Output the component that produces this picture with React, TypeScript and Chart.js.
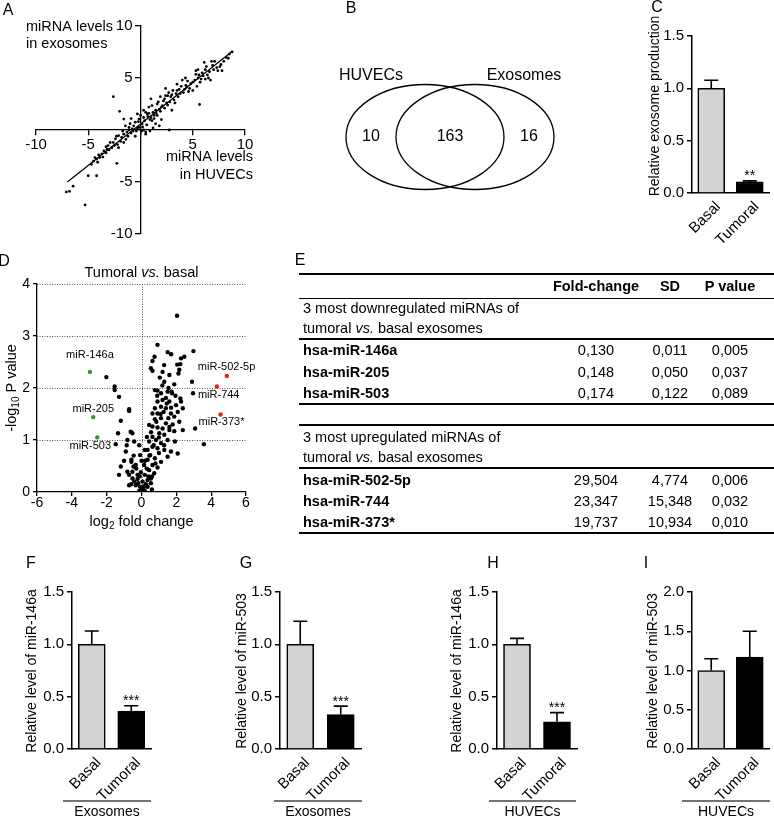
import React, { useEffect, useRef } from 'react';
import { Chart, registerables } from 'chart.js';

Chart.register(...registerables);

const FONT = '"Liberation Sans", Arial, Helvetica, sans-serif';
const PAGE_W = 774;
const PAGE_H = 817;

// ================= Panel A : miRNA levels, exosomes vs HUVECs =================
const exoVsHuvecPoints: [number, number][] = [
  [8.77, 7.52], [8.5, 7.3], [8.2, 6.97], [7.97, 6.6], [8.4, 6.9], [7.7, 6.3], [7.1, 6.6], [6.9, 6.2],
  [7.4, 5.7], [7.8, 5.7], [6.6, 5.6], [6.3, 6.1], [6.1, 6.5], [5.6, 5.3], [5.3, 5.7], [5.3, 5.35],
  [6.0, 5.2], [6.7, 4.8], [5.2, 4.8], [4.8, 4.45], [4.35, 4.3], [4.7, 4.0], [5.0, 3.8], [4.0, 4.8],
  [3.9, 4.2], [3.5, 3.8], [3.4, 3.5], [3.1, 3.8], [2.7, 3.6], [2.4, 4.0], [2.6, 3.3], [2.9, 3.2],
  [2.3, 3.0], [1.9, 3.2], [1.6, 2.5], [2.1, 2.35], [1.8, 2.0], [1.45, 1.9], [1.1, 2.35], [1.0, 3.0],
  [0.8, 2.2], [1.3, 1.4], [0.65, 1.55], [0.5, 1.7], [0.3, 1.2], [0.0, 1.4], [-0.15, 1.05], [-0.3, 1.55],
  [-0.5, 0.75], [-0.65, 0.4], [-0.15, 0.25], [0.15, 0.6], [-1.0, 0.6], [-0.8, 0.1], [-1.1, 0.25],
  [-1.45, 0.4], [-1.6, 1.05], [-2.0, 1.8], [-2.6, 3.2], [-1.3, -0.2], [-1.6, -0.4], [-1.8, -0.7],
  [-2.1, -0.55], [-2.4, -0.85], [-2.6, -1.2], [-2.9, -1.2], [-3.1, -1.5], [-2.75, -1.7], [-3.2, -1.85],
  [-3.5, -2.0], [-3.7, -2.3], [-4.0, -2.4], [-3.9, -2.65], [-4.2, -2.8], [-4.35, -2.65], [-4.5, -3.0],
  [-2.1, -1.7], [-2.26, -3.2], [-1.6, -1.2], [0.5, -0.2], [2.75, 0.0], [5.65, 2.45], [1.45, 0.6],
  [1.8, 0.4], [0.5, -0.4], [-5.0, -4.4], [-4.2, -4.4], [-6.45, -5.4], [-6.8, -5.9], [-7.1, -5.95],
  [-5.3, -7.2],
  [7.3, 6.0], [7.6, 6.1], [6.4, 5.3], [6.2, 5.8], [5.8, 4.9], [5.5, 5.0], [5.9, 5.5], [4.5, 4.7],
  [4.2, 3.9], [4.4, 4.1], [3.8, 3.5], [3.6, 3.2], [3.2, 2.9], [3.0, 3.4], [2.5, 2.6], [2.2, 2.8],
  [2.0, 2.2], [1.7, 2.7], [1.5, 1.6], [1.2, 1.7], [1.0, 1.2], [0.9, 1.0], [0.7, 1.3], [0.4, 0.9],
  [0.2, 0.3], [0.3, 0.0], [0.1, -0.1], [-0.3, 0.2], [-0.4, -0.1], [-0.7, -0.1], [-0.9, -0.3],
  [-1.2, -0.6], [-1.4, -0.9], [-1.9, -1.1], [-2.2, -1.4], [-2.5, -1.5], [-3.0, -1.9], [-3.3, -2.2],
  [-3.6, -2.6], [-4.1, -3.1], [-4.7, -3.3], [-3.3, -1.6], [-2.3, -0.6], [-1.7, -0.1], [-0.2, 0.8],
  [0.6, 0.5], [1.1, 0.9], [1.3, 1.1], [1.6, 1.4], [1.9, 1.8], [2.3, 2.1], [2.6, 2.4], [2.8, 2.7],
  [3.3, 2.6], [3.7, 3.9], [4.1, 3.6], [4.6, 3.7], [5.0, 4.6], [5.4, 4.2], [5.7, 4.6], [6.2, 4.9],
  [6.5, 5.0], [7.0, 5.8], [3.0, 1.9], [2.0, 1.0], [1.2, 0.2], [0.9, -0.1], [-0.5, -0.6], [-1.1, 0.0],
  [-0.9, 1.1], [0.3, 1.9], [0.8, 1.6], [2.4, 3.3], [3.5, 4.4], [4.3, 5.0], [5.5, 5.8], [6.8, 6.6],
];
const fitLineX = [-7, 8.7];
const fitLineY = [-5, 7.5];

// ================= Panel B : Venn =================
const vennSetNames = ['HUVECs', 'Exosomes'];
const vennCounts = [10, 163, 16];
const vennCenterX = [-25, 25];
const vennRadiusX = 79;
const vennRadiusY = 52.5;

// ================= Bar panels (C, F, G, H, I) =================
const groups = ['Basal', 'Tumoral'];
const barFill = ['#d3d3d3', '#000000'];

const exosomeProduction = [1.0, 0.106];
const exosomeProductionErr = [0.077, 0.01];
const exoMiR146a = [1.0, 0.363];
const exoMiR146aErr = [0.127, 0.05];
const exoMiR503 = [1.0, 0.33];
const exoMiR503Err = [0.22, 0.08];
const huvecMiR146a = [1.0, 0.26];
const huvecMiR146aErr = [0.057, 0.088];
const huvecMiR503 = [1.0, 1.17];
const huvecMiR503Err = [0.15, 0.33];

// ================= Panel D : volcano =================
const volcanoPoints: [number, number][] = [
  [2.04, 3.39], [0.92, 2.83], [1.5, 2.69], [1.7, 2.65], [2.98, 2.71], [2.46, 2.6], [2.27, 2.57],
  [0.63, 2.52], [1.3, 2.44], [0.54, 2.38], [0.63, 2.33], [1.21, 2.31], [1.6, 2.25], [2.17, 2.35],
  [2.23, 2.46], [2.12, 2.28], [2.9, 2.12], [1.88, 2.07], [0.77, 1.96], [0.92, 1.95], [1.12, 1.9],
  [1.73, 1.93], [1.75, 1.9], [1.4, 1.81], [1.6, 1.74], [1.21, 1.77], [0.92, 1.74], [2.23, 1.8],
  [2.27, 1.74], [2.37, 1.61], [1.98, 1.67], [1.12, 1.64], [1.4, 1.61], [0.77, 1.61], [0.63, 1.51],
  [0.92, 1.51], [1.27, 1.54], [1.69, 1.51], [2.08, 1.54], [1.88, 1.45], [1.54, 1.42], [1.12, 1.42],
  [0.77, 1.4], [1.4, 1.32], [1.79, 1.3], [2.17, 1.35], [2.37, 1.19], [0.44, 1.29], [0.63, 1.26],
  [0.92, 1.24], [1.21, 1.22], [1.6, 1.19], [1.88, 1.17], [1.02, 1.13], [1.31, 1.1], [0.63, 1.06],
  [0.31, 1.06], [0.83, 1.0], [1.5, 1.0], [1.92, 0.97], [1.12, 0.94], [0.44, 0.97], [0.63, 0.87],
  [0.92, 0.84], [1.31, 0.81], [1.69, 0.78], [2.08, 0.74], [0.35, 0.81], [0.5, 0.71], [0.77, 0.65],
  [1.12, 0.58], [1.5, 0.68], [0.35, 0.62], [0.63, 0.52], [0.15, 0.52], [0.92, 0.47], [0.44, 0.42],
  [0.73, 0.36], [0.19, 0.33], [-0.04, 0.38], [-0.23, 0.33], [0.54, 0.26], [0.35, 0.23], [0.06, 0.2],
  [-0.19, 0.17], [-0.08, 0.1], [0.15, 0.1], [-0.33, 0.13], [-0.42, 0.2], [-0.52, 0.26], [-0.71, 0.33],
  [-0.81, 0.39], [-0.52, 0.39], [-0.33, 0.52], [-0.58, 0.58], [-0.46, 0.49], [-0.23, 0.25],
  [-0.04, 0.04], [0.06, 0.07], [-0.13, 0.02], [0.19, 0.02], [0.35, 0.1], [0.54, 0.17], [-0.71, 0.13],
  [-1.0, 0.6], [-1.19, 0.49], [-1.29, 0.33], [-0.9, 0.78], [-0.58, 0.62], [-0.62, 1.16], [-0.52, 1.13],
  [-0.81, 1.0], [-0.42, 0.97], [-0.85, 0.9], [-1.35, 1.13], [-1.48, 0.92], [-1.19, 1.37], [-0.71, 1.59],
  [-0.71, 1.56], [-1.29, 1.83], [-1.54, 2.03], [-1.54, 1.96], [-2.02, 2.21], [3.58, 0.92], [3.08, 1.22],
  [2.96, 1.9], [0.19, 0.81], [-0.13, 0.9], [-0.08, 0.71], [1.5, 1.93], [1.31, 2.12],
  [0.1, 0.05], [0.25, 0.15], [-0.1, 0.3], [0.3, 0.45], [0.6, 0.3], [0.8, 0.55], [0.2, 0.6], [-0.3, 0.45],
  [0.45, 0.7], [0.7, 0.9], [1.0, 0.75], [1.3, 0.9], [1.6, 1.25], [1.1, 1.5], [0.85, 1.35], [0.55, 1.15],
  [1.45, 1.7], [1.7, 1.62], [1.95, 1.85], [1.0, 1.05], [0.9, 1.85], [0.6, 0.05], [0.4, 0.3], [-0.6, 0.15],
  [-0.45, 0.7], [0.0, 0.6], [1.2, 2.05], [1.05, 2.2], [0.75, 2.6], [2.05, 2.45], [1.55, 2.0],
];
const downNames = ['miR-146a', 'miR-205', 'miR-503'];
const downLog2FC = [-2.96, -2.77, -2.54];
const downNegLogP = [2.31, 1.44, 1.05];
const upNames = ['miR-502-5p', 'miR-744', 'miR-373*'];
const upLog2FC = [4.9, 4.33, 4.54];
const upNegLogP = [2.23, 2.03, 1.49];

// ================= Panel E : table =================
const tableHeader = ['Fold-change', 'SD', 'P value'];
const downGenes = ['hsa-miR-146a', 'hsa-miR-205', 'hsa-miR-503'];
const downFold = ['0,130', '0,148', '0,174'];
const downSD = ['0,011', '0,050', '0,122'];
const downP = ['0,005', '0,037', '0,089'];
const upGenes = ['hsa-miR-502-5p', 'hsa-miR-744', 'hsa-miR-373*'];
const upFold = ['29,504', '23,347', '19,737'];
const upSD = ['4,774', '15,348', '10,934'];
const upP = ['0,006', '0,032', '0,010'];

// ================= helpers =================
type Seg = { t: string; size: number; italic?: boolean; bold?: boolean; dy?: number };
const segFont = (s: Seg) => `${s.italic ? 'italic ' : ''}${s.bold ? 'bold ' : ''}${s.size}px ${FONT}`;

function drawSegs(ctx: any, segs: Seg[], x: number, y: number, align: string = 'left', rot = 0, color = '#000') {
  ctx.save();
  ctx.translate(x, y);
  if (rot) ctx.rotate(rot);
  ctx.textBaseline = 'middle';
  ctx.textAlign = 'left';
  ctx.fillStyle = color;
  let total = 0;
  const widths = segs.map((s) => {
    ctx.font = segFont(s);
    const w = ctx.measureText(s.t).width;
    total += w;
    return w;
  });
  let cx = align === 'left' ? 0 : align === 'center' ? -total / 2 : -total;
  segs.forEach((s, i) => {
    ctx.font = segFont(s);
    ctx.fillText(s.t, cx, s.dy || 0);
    cx += widths[i];
  });
  ctx.restore();
}

const basePlugins = { legend: { display: false }, tooltip: { enabled: false }, title: { display: false } };
const baseOpts = (padding: any) => ({
  responsive: false,
  maintainAspectRatio: false,
  animation: false,
  devicePixelRatio: 1,
  events: [],
  layout: { padding },
  plugins: basePlugins,
});

const axisGrid = (tickLength: number, lw = 1.3) => ({
  display: true,
  drawOnChartArea: false,
  drawTicks: true,
  tickLength,
  color: '#000',
  lineWidth: lw,
});
const axisBorder = (lw = 1.3) => ({ display: true, color: '#000', width: lw });

// ================= Panel A config =================
function makeA() {
  const area = { left: 36, right: 245, top: 26, bottom: 234 };
  return {
    type: 'scatter',
    data: {
      datasets: [
        {
          data: exoVsHuvecPoints.map(([x, y]) => ({ x, y })),
          pointRadius: 1.4,
          pointBackgroundColor: '#000',
          pointBorderColor: '#000',
          pointBorderWidth: 0,
        },
        {
          type: 'line',
          data: fitLineX.map((x, i) => ({ x, y: fitLineY[i] })),
          borderColor: '#000',
          borderWidth: 1.3,
          pointRadius: 0,
          fill: false,
        },
      ],
    },
    options: {
      ...baseOpts({ left: area.left, top: area.top, right: PAGE_W - area.right, bottom: PAGE_H - area.bottom }),
      scales: {
        x: {
          type: 'linear',
          min: -10,
          max: 10,
          position: { y: 0 },
          ticks: {
            stepSize: 5,
            autoSkip: false,
            maxRotation: 0,
            color: '#000',
            padding: 1,
            font: { size: 15, family: FONT },
            callback: (v: any) => (v === 0 ? '' : String(v)),
          },
          grid: axisGrid(5),
          border: axisBorder(),
        },
        y: {
          type: 'linear',
          min: -10,
          max: 10,
          position: { x: 0 },
          ticks: { stepSize: 5, display: false },
          grid: axisGrid(5),
          border: axisBorder(),
        },
      },
    },
    plugins: [
      {
        id: 'aDecor',
        afterDraw(chart: any) {
          const { ctx, scales } = chart;
          const xs = scales.x;
          const ys = scales.y;
          const axisX = xs.getPixelForValue(0);
          ys.ticks.forEach((t: any) => {
            if (t.value === 0) return;
            drawSegs(ctx, [{ t: String(t.value), size: 15 }], axisX - 8, ys.getPixelForValue(t.value), 'right');
          });
          drawSegs(ctx, [{ t: 'miRNA levels', size: 14.5 }], 26, 27, 'left');
          drawSegs(ctx, [{ t: 'in exosomes', size: 14.5 }], 26, 44, 'left');
          drawSegs(ctx, [{ t: 'miRNA levels', size: 14.5 }], 253, 157, 'right');
          drawSegs(ctx, [{ t: 'in HUVECs', size: 14.5 }], 253, 175, 'right');
        },
      },
    ],
  };
}

// ================= Panel B config =================
function makeB() {
  const area = { left: 346, right: 554, top: 84.5, bottom: 189.5 };
  return {
    type: 'scatter',
    data: { datasets: [{ data: [] }] },
    options: {
      ...baseOpts({ left: area.left, top: area.top, right: PAGE_W - area.right, bottom: PAGE_H - area.bottom }),
      scales: {
        x: { type: 'linear', display: false, min: -104, max: 104 },
        y: { type: 'linear', display: false, min: -vennRadiusY, max: vennRadiusY },
      },
    },
    plugins: [
      {
        id: 'venn',
        afterDraw(chart: any) {
          const { ctx, scales } = chart;
          const xs = scales.x;
          const ys = scales.y;
          const cy = ys.getPixelForValue(0);
          ctx.save();
          ctx.strokeStyle = '#000';
          ctx.lineWidth = 1.3;
          vennCenterX.forEach((c) => {
            const cx = xs.getPixelForValue(c);
            const rx = xs.getPixelForValue(c + vennRadiusX) - cx;
            const ry = cy - ys.getPixelForValue(vennRadiusY);
            ctx.beginPath();
            ctx.ellipse(cx, cy, rx, ry, 0, 0, Math.PI * 2);
            ctx.stroke();
          });
          ctx.restore();
          const leftOnly = ((vennCenterX[0] - vennRadiusX) + (vennCenterX[1] - vennRadiusX)) / 2;
          const both = (vennCenterX[0] + vennCenterX[1]) / 2;
          const rightOnly = ((vennCenterX[0] + vennRadiusX) + (vennCenterX[1] + vennRadiusX)) / 2;
          [leftOnly, both, rightOnly].forEach((v, i) => {
            drawSegs(ctx, [{ t: String(vennCounts[i]), size: 16 }], xs.getPixelForValue(v), cy, 'center');
          });
          const topY = ys.getPixelForValue(vennRadiusY) - 9;
          drawSegs(ctx, [{ t: vennSetNames[0], size: 16 }], xs.getPixelForValue(leftOnly), topY, 'center');
          drawSegs(ctx, [{ t: vennSetNames[1], size: 16 }], xs.getPixelForValue(rightOnly) - 5, topY, 'center');
        },
      },
    ],
  };
}

// ================= Bar panel config =================
type BarSpec = {
  means: number[];
  errs: number[];
  stars: string[];
  yMax: number;
  area: [number, number, number, number];
  title: string;
  titleX: number;
  titleY: number;
  group?: string;
  groupLine?: [number, number];
};

function makeBar(s: BarSpec) {
  const [L, R, T, B] = s.area;
  const XH = 60;
  return {
    type: 'bar',
    data: {
      labels: groups,
      datasets: [
        {
          data: s.means,
          backgroundColor: barFill,
          borderColor: '#000',
          borderWidth: 1.6,
          barThickness: 27,
        },
      ],
    },
    options: {
      ...baseOpts({ left: 0, top: T, right: PAGE_W - R, bottom: Math.max(0, PAGE_H - B - XH) }),
      scales: {
        x: {
          type: 'category',
          offset: true,
          grid: { display: false },
          border: axisBorder(1.5),
          ticks: {
            autoSkip: false,
            minRotation: 45,
            maxRotation: 45,
            color: '#000',
            padding: -3,
            labelOffset: 7,
            font: { size: 15, family: FONT },
          },
          afterFit: (sc: any) => {
            sc.height = Math.min(XH, PAGE_H - B);
          },
        },
        y: {
          type: 'linear',
          min: 0,
          max: s.yMax,
          ticks: {
            stepSize: 0.5,
            color: '#000',
            padding: 3,
            font: { size: 15, family: FONT },
            callback: (v: any) => Number(v).toFixed(1),
          },
          grid: axisGrid(5, 1.5),
          border: axisBorder(1.5),
          afterFit: (sc: any) => {
            sc.width = L;
          },
        },
      },
    },
    plugins: [
      {
        id: 'barDecor',
        afterDatasetsDraw(chart: any) {
          const { ctx, scales } = chart;
          const ys = scales.y;
          const meta = chart.getDatasetMeta(0);
          ctx.save();
          ctx.strokeStyle = '#000';
          ctx.lineWidth = 1.6;
          s.means.forEach((m, i) => {
            const bar = meta.data[i];
            const x = bar.x;
            const yTop = ys.getPixelForValue(m);
            const yErr = ys.getPixelForValue(m + s.errs[i]);
            ctx.beginPath();
            ctx.moveTo(x, yTop);
            ctx.lineTo(x, yErr);
            ctx.moveTo(x - 7, yErr);
            ctx.lineTo(x + 7, yErr);
            ctx.stroke();
            if (s.stars[i]) {
              ctx.save();
              ctx.fillStyle = '#000';
              ctx.font = `14px ${FONT}`;
              ctx.textAlign = 'center';
              ctx.textBaseline = 'alphabetic';
              ctx.fillText(s.stars[i], x, yErr - 0.5);
              ctx.restore();
            }
          });
          ctx.restore();
        },
        afterDraw(chart: any) {
          const { ctx } = chart;
          drawSegs(ctx, [{ t: s.title, size: 14 }], s.titleX, s.titleY, 'center', -Math.PI / 2);
          if (s.group && s.groupLine) {
            ctx.save();
            ctx.strokeStyle = '#444';
            ctx.lineWidth = 1.3;
            ctx.beginPath();
            ctx.moveTo(s.groupLine[0], 801);
            ctx.lineTo(s.groupLine[1], 801);
            ctx.stroke();
            ctx.restore();
            drawSegs(ctx, [{ t: s.group, size: 14 }], (s.groupLine[0] + s.groupLine[1]) / 2, 812, 'center');
          }
        },
      },
    ],
  };
}

// ================= Panel D config =================
function makeD() {
  const area = { left: 37, right: 246, top: 284, bottom: 492 };
  const XH = 30;
  const ptStyle = (c: string) => ({
    pointRadius: 2.2,
    pointBackgroundColor: c,
    pointBorderColor: c,
    pointBorderWidth: 0,
  });
  return {
    type: 'scatter',
    data: {
      datasets: [
        { data: volcanoPoints.map(([x, y]) => ({ x, y })), ...ptStyle('#000') },
        { data: downLog2FC.map((x, i) => ({ x, y: downNegLogP[i] })), ...ptStyle('#2e9a2e') },
        { data: upLog2FC.map((x, i) => ({ x, y: upNegLogP[i] })), ...ptStyle('#e8231e') },
      ],
    },
    options: {
      ...baseOpts({ left: 0, top: area.top, right: PAGE_W - area.right, bottom: PAGE_H - area.bottom - XH }),
      scales: {
        x: {
          type: 'linear',
          position: 'bottom',
          min: -6,
          max: 6,
          ticks: { stepSize: 2, autoSkip: false, maxRotation: 0, color: '#000', padding: -1, font: { size: 14, family: FONT } },
          grid: axisGrid(4),
          border: axisBorder(),
          afterFit: (sc: any) => {
            sc.height = XH;
          },
        },
        y: {
          type: 'linear',
          min: 0,
          max: 4,
          ticks: { stepSize: 1, color: '#000', padding: 3, font: { size: 14, family: FONT } },
          grid: axisGrid(4),
          border: axisBorder(),
          afterFit: (sc: any) => {
            sc.width = area.left;
          },
        },
      },
    },
    plugins: [
      {
        id: 'dDecor',
        beforeDatasetsDraw(chart: any) {
          const { ctx, scales, chartArea } = chart;
          const xs = scales.x;
          const ys = scales.y;
          ctx.save();
          ctx.strokeStyle = '#555';
          ctx.lineWidth = 1;
          ctx.setLineDash([1, 1.5]);
          ys.ticks.forEach((t: any) => {
            if (t.value === 0) return;
            const y = Math.round(ys.getPixelForValue(t.value)) + 0.5;
            ctx.beginPath();
            ctx.moveTo(chartArea.left, y);
            ctx.lineTo(chartArea.right, y);
            ctx.stroke();
          });
          const x0 = Math.round(xs.getPixelForValue(0)) + 0.5;
          ctx.beginPath();
          ctx.moveTo(x0, chartArea.top);
          ctx.lineTo(x0, chartArea.bottom);
          ctx.stroke();
          ctx.restore();
        },
        afterDraw(chart: any) {
          const { ctx, scales, chartArea } = chart;
          const xs = scales.x;
          const ys = scales.y;
          const midX = (chartArea.left + chartArea.right) / 2;
          drawSegs(
            ctx,
            [{ t: 'Tumoral ', size: 14.5 }, { t: 'vs.', size: 14.5, italic: true }, { t: ' basal', size: 14.5 }],
            midX,
            273,
            'center'
          );
          drawSegs(
            ctx,
            [{ t: 'log', size: 14.5 }, { t: '2', size: 10, dy: 4 }, { t: ' fold change', size: 14.5 }],
            midX,
            522,
            'center'
          );
          drawSegs(
            ctx,
            [{ t: '-log', size: 14.5 }, { t: '10', size: 10, dy: 4 }, { t: ' P value', size: 14.5 }],
            12,
            (chartArea.top + chartArea.bottom) / 2,
            'center',
            -Math.PI / 2
          );
          const downOffsets = [
            [0, -17, 'center'],
            [0, -8, 'center'],
            [-7, 9, 'center'],
          ];
          downNames.forEach((n, i) => {
            const px = xs.getPixelForValue(downLog2FC[i]);
            const py = ys.getPixelForValue(downNegLogP[i]);
            const o = downOffsets[i];
            drawSegs(ctx, [{ t: n, size: 11 }], px + (o[0] as number), py + (o[1] as number), o[2] as string);
          });
          const upOffsets = [
            [-29, -9],
            [-19, 9],
            [-22, 7],
          ];
          upNames.forEach((n, i) => {
            const px = xs.getPixelForValue(upLog2FC[i]);
            const py = ys.getPixelForValue(upNegLogP[i]);
            const o = upOffsets[i];
            drawSegs(ctx, [{ t: n, size: 11 }], px + o[0], py + o[1], 'left');
          });
        },
      },
    ],
  };
}

// ================= React pieces =================
function ChartCanvas({ make }: { make: () => any }) {
  const ref = useRef<HTMLCanvasElement>(null);
  useEffect(() => {
    const chart = new Chart(ref.current as any, make());
    return () => chart.destroy();
  }, []);
  return (
    <canvas
      ref={ref}
      width={PAGE_W}
      height={PAGE_H}
      style={{ position: 'absolute', left: 0, top: 0, width: PAGE_W, height: PAGE_H, pointerEvents: 'none' }}
    />
  );
}

function Txt({
  x,
  y,
  children,
  size = 14.5,
  bold = false,
  align = 'left',
}: {
  x: number;
  y: number;
  children: any;
  size?: number;
  bold?: boolean;
  align?: string;
}) {
  const w = 240;
  const left = align === 'left' ? x : align === 'center' ? x - w / 2 : x - w;
  return (
    <div
      style={{
        position: 'absolute',
        left,
        top: y - 9,
        width: w,
        height: 18,
        lineHeight: '18px',
        fontSize: size,
        fontWeight: bold ? 'bold' : 'normal',
        textAlign: align as any,
        whiteSpace: 'nowrap',
        color: '#000',
      }}
    >
      {children}
    </div>
  );
}

function HLine({ y, h }: { y: number; h: number }) {
  return <div style={{ position: 'absolute', left: 299, top: y - h / 2, width: PAGE_W - 299, height: h, background: '#000' }} />;
}

function TableE() {
  const labelX = 303;
  const colX = [596, 670, 730];
  const downRowsY = [350, 371.5, 393];
  const upRowsY = [480, 501, 522];
  const row = (gene: string, f: string, sd: string, p: string, y: number) => (
    <React.Fragment key={gene}>
      <Txt x={labelX} y={y} bold>
        {gene}
      </Txt>
      <Txt x={colX[0]} y={y} align="center">
        {f}
      </Txt>
      <Txt x={colX[1]} y={y} align="center">
        {sd}
      </Txt>
      <Txt x={colX[2]} y={y} align="center">
        {p}
      </Txt>
    </React.Fragment>
  );
  return (
    <>
      <HLine y={274} h={2} />
      {tableHeader.map((h, i) => (
        <Txt key={h} x={colX[i]} y={285.5} align="center" bold>
          {h}
        </Txt>
      ))}
      <HLine y={298} h={1} />
      <Txt x={labelX} y={308}>
        3 most downregulated miRNAs of
      </Txt>
      <Txt x={labelX} y={328}>
        tumoral <i>vs.</i> basal exosomes
      </Txt>
      <HLine y={339} h={2} />
      {downGenes.map((g, i) => row(g, downFold[i], downSD[i], downP[i], downRowsY[i]))}
      <HLine y={404} h={2} />
      <HLine y={425} h={2} />
      <Txt x={labelX} y={437}>
        3 most upregulated miRNAs of
      </Txt>
      <Txt x={labelX} y={457}>
        tumoral <i>vs.</i> basal exosomes
      </Txt>
      <HLine y={468} h={2} />
      {upGenes.map((g, i) => row(g, upFold[i], upSD[i], upP[i], upRowsY[i]))}
      <HLine y={533} h={2} />
    </>
  );
}

const panelLetters: [string, number, number][] = [
  ['A', 8, 10],
  ['B', 351, 8],
  ['C', 657, 7],
  ['D', 4, 261],
  ['E', 300, 260],
  ['F', 31, 563],
  ['G', 246, 563],
  ['H', 493, 563],
  ['I', 646, 563],
];

export default function App() {
  useEffect(() => {
    document.body.style.margin = '0';
  }, []);
  const specs: BarSpec[] = [
    {
      means: exosomeProduction,
      errs: exosomeProductionErr,
      stars: ['', '**'],
      yMax: 1.5,
      area: [692, 769, 36, 193],
      title: 'Relative exosome production',
      titleX: 655,
      titleY: 106,
    },
    {
      means: exoMiR146a,
      errs: exoMiR146aErr,
      stars: ['', '***'],
      yMax: 1.5,
      area: [72, 151, 592, 749],
      title: 'Relative level of miR-146a',
      titleX: 32,
      titleY: 671,
      group: 'Exosomes',
      groupLine: [63, 151],
    },
    {
      means: exoMiR503,
      errs: exoMiR503Err,
      stars: ['', '***'],
      yMax: 1.5,
      area: [280, 361, 592, 749],
      title: 'Relative level of miR-503',
      titleX: 242,
      titleY: 671,
      group: 'Exosomes',
      groupLine: [274, 362],
    },
    {
      means: huvecMiR146a,
      errs: huvecMiR146aErr,
      stars: ['', '***'],
      yMax: 1.5,
      area: [497, 577, 592, 749],
      title: 'Relative level of miR-146a',
      titleX: 457,
      titleY: 671,
      group: 'HUVECs',
      groupLine: [489, 576],
    },
    {
      means: huvecMiR503,
      errs: huvecMiR503Err,
      stars: ['', ''],
      yMax: 2.0,
      area: [692, 769, 592, 749],
      title: 'Relative level of miR-503',
      titleX: 653,
      titleY: 671,
      group: 'HUVECs',
      groupLine: [682, 770],
    },
  ];
  return (
    <div
      style={{
        position: 'absolute',
        left: 0,
        top: 0,
        width: PAGE_W,
        height: PAGE_H,
        background: '#fff',
        fontFamily: FONT,
        overflow: 'hidden',
      }}
    >
      <ChartCanvas make={makeA} />
      <ChartCanvas make={makeB} />
      <ChartCanvas make={makeD} />
      {specs.map((s, i) => (
        <ChartCanvas key={i} make={() => makeBar(s)} />
      ))}
      <TableE />
      {panelLetters.map(([l, x, y]) => (
        <Txt key={l} x={x} y={y} size={16} align="center">
          {l}
        </Txt>
      ))}
    </div>
  );
}
